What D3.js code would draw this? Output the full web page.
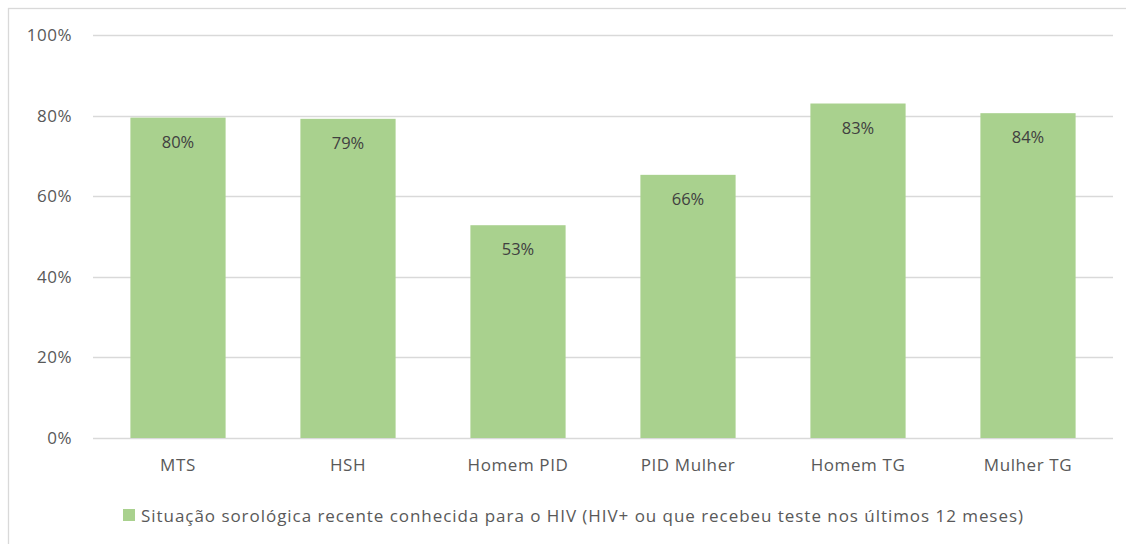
<!DOCTYPE html>
<html><head><meta charset="utf-8">
<script src="https://cdn.jsdelivr.net/npm/d3@7"></script>
<style>body{margin:0;background:#fff}svg{display:block}text{font-family:"Open Sans","Liberation Sans",sans-serif}</style>
</head><body><svg id="c" width="1126" height="544"></svg>
<script>
const categories = ["MTS","HSH","Homem PID","PID Mulher","Homem TG","Mulher TG"];
const values = [0.795, 0.792, 0.528, 0.653, 0.830, 0.806];
const labels = ["80%","79%","53%","66%","83%","84%"];
const yTicks = [0,0.2,0.4,0.6,0.8,1.0];
const seriesName = "Situação sorológica recente conhecida para o HIV (HIV+ ou que recebeu teste nos últimos 12 meses)";

const svg = d3.select("#c");
svg.append("rect").attr("x",8.5).attr("y",8.5).attr("width",1130).attr("height",550)
  .attr("fill","#fff").attr("stroke","#d9d9d9").attr("stroke-width",1.3);

const x = d3.scaleBand().domain(categories).range([93,1113]).paddingInner(0.44).paddingOuter(0.22);
const y = d3.scaleLinear().domain([0,1]).range([438,35]);

const grid = svg.append("g");
grid.selectAll("line").data(yTicks).join("line")
  .attr("x1",93).attr("x2",1113).attr("y1",d=>Math.round(y(d))+0.5).attr("y2",d=>Math.round(y(d))+0.5)
  .attr("stroke","#d9d9d9").attr("stroke-width",1.3);

const yAxis = svg.append("g").attr("transform","translate(72,0)")
  .call(d3.axisLeft(y).tickValues(yTicks).tickFormat(d3.format(".0%")).tickSize(0).tickPadding(0));
yAxis.select(".domain").remove();
yAxis.attr("font-size",17).attr("font-family","Open Sans, sans-serif");
yAxis.selectAll("text").attr("fill","#595959").attr("letter-spacing",0.5);

svg.append("g").selectAll("text").data([]).join("text");
svg.append("g").selectAll("rect").data(values).join("rect")
  .attr("x",(d,i)=>x(categories[i])).attr("width",x.bandwidth())
  .attr("y",d=>y(d)).attr("height",d=>y(0)-y(d)).attr("fill","#a9d18e");

svg.append("g").selectAll("text").data(values).join("text")
  .attr("x",(d,i)=>x(categories[i])+x.bandwidth()/2).attr("y",d=>y(d)+30)
  .attr("text-anchor","middle").attr("font-size",16.5).attr("fill","#404040")
  .text((d,i)=>labels[i]);

const xAxis = svg.append("g").attr("transform","translate(0,438)")
  .call(d3.axisBottom(x).tickSize(0).tickPadding(21));
xAxis.select(".domain").remove();
xAxis.attr("font-size",17).attr("font-family","Open Sans, sans-serif");
xAxis.selectAll("text").attr("fill","#595959").attr("letter-spacing",0.6);

const lg = svg.append("g");
lg.append("rect").attr("x",123).attr("y",509).attr("width",12).attr("height",12).attr("fill","#a9d18e");
lg.append("text").attr("x",141).attr("y",522).attr("font-size",17).attr("fill","#595959")
  .attr("textLength",882).attr("lengthAdjust","spacing").text(seriesName);
</script></body></html>
